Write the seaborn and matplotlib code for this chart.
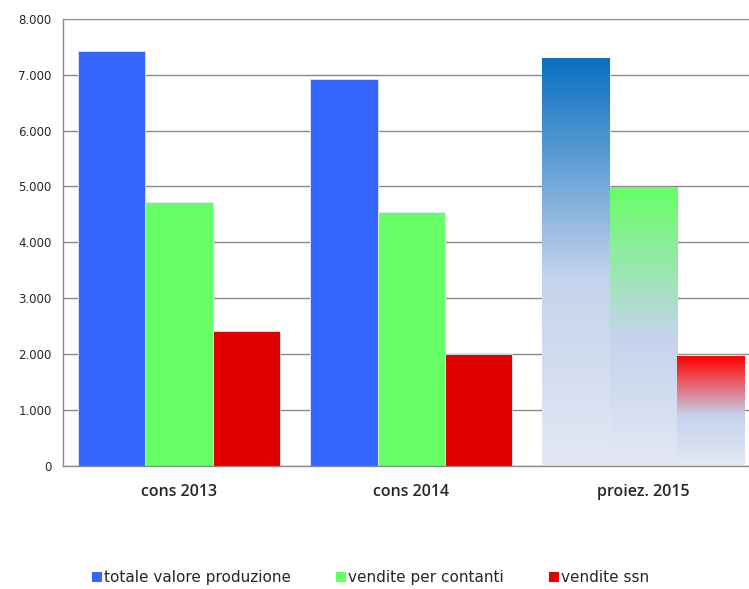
import numpy as np
import pandas as pd
import matplotlib
matplotlib.use("Agg")
import matplotlib.pyplot as plt
from matplotlib.patches import Patch
from matplotlib.colors import LinearSegmentedColormap
from matplotlib.ticker import FuncFormatter
import seaborn as sns

categories = ["cons 2013", "cons 2014", "proiez. 2015"]
series = ["totale valore produzione", "vendite per contanti", "vendite ssn"]
totale = [7420, 6920, 7300]
contanti = [4720, 4550, 4990]
ssn = [2420, 2000, 1960]
colors = ["#3366ff", "#66ff66", "#e00000"]
top_2015 = ["#0870c0", "#66ff66", "#ff0000"]

df = pd.DataFrame({
    "cat": categories * 3,
    "serie": [s for s in series for _ in categories],
    "val": totale + contanti + ssn,
})

sns.set_style("white")
plt.rcParams["font.family"] = ["DejaVu Sans"]

fig = plt.figure(figsize=(7.49, 5.89), dpi=100)
ax = fig.add_axes([0.084, 0.209, 0.93, 0.759])

sns.barplot(data=df, x="cat", y="val", hue="serie", palette=colors,
            saturation=1, width=0.87, legend=False, ax=ax, zorder=2,
            edgecolor="#dde6ff", linewidth=0.6)

# sfumatura sulle barre della proiezione
for i, cont in enumerate(ax.containers):
    bar = cont.patches[-1]
    x, w, h = bar.get_x(), bar.get_width(), bar.get_height()
    cmap = LinearSegmentedColormap.from_list(
        "g%d" % i, [(0, "#e3e8f4"), (0.46, "#c5d3ec"), (1, top_2015[i])])
    grad = np.linspace(0, 1, 256).reshape(-1, 1)
    ax.imshow(grad, cmap=cmap, extent=[x, x + w, 0, h], origin="lower",
              aspect="auto", zorder=2)
    bar.set_facecolor("none")
    bar.set_edgecolor("#eef2fb")

ax.set_xlim(-0.5, 2.46)
ax.set_ylim(0, 8000)
ax.set_yticks(range(0, 8001, 1000))
ax.yaxis.set_major_formatter(FuncFormatter(lambda v, p: f"{int(v):,}".replace(",", ".")))
ax.grid(axis="y", color="#8a8a8a", linewidth=1)
ax.set_axisbelow(True)

ax.set_xticks([-0.5, 0.5, 1.5, 2.5])
ax.set_xticklabels([])
ax.set_xticks([0, 1, 2], minor=True)
ax.set_xticklabels(categories, minor=True, fontsize=11.5, fontweight="semibold",
                   family=["Open Sans", "DejaVu Sans"])
ax.tick_params(axis="x", which="minor", length=0, pad=13)
ax.tick_params(axis="x", which="major", length=5, color="#8a8a8a", direction="out")
ax.tick_params(axis="y", length=5, color="#8a8a8a", direction="out", labelsize=8.5, pad=3)

for s in ["top", "right"]:
    ax.spines[s].set_visible(False)
for s in ["left", "bottom"]:
    ax.spines[s].set_color("#8a8a8a")
    ax.spines[s].set_linewidth(1)
ax.set_xlabel("")
ax.set_ylabel("")

handles = [Patch(facecolor=c, edgecolor="none") for c in colors]
fig.legend(handles, series, loc="center", bbox_to_anchor=(0.4947, 0.019), ncol=3,
           frameon=False, handlelength=0.65, handleheight=0.65, handletextpad=0.13,
           columnspacing=2.94, fontsize=11, borderpad=0)

fig.savefig("out.png", dpi=100)
